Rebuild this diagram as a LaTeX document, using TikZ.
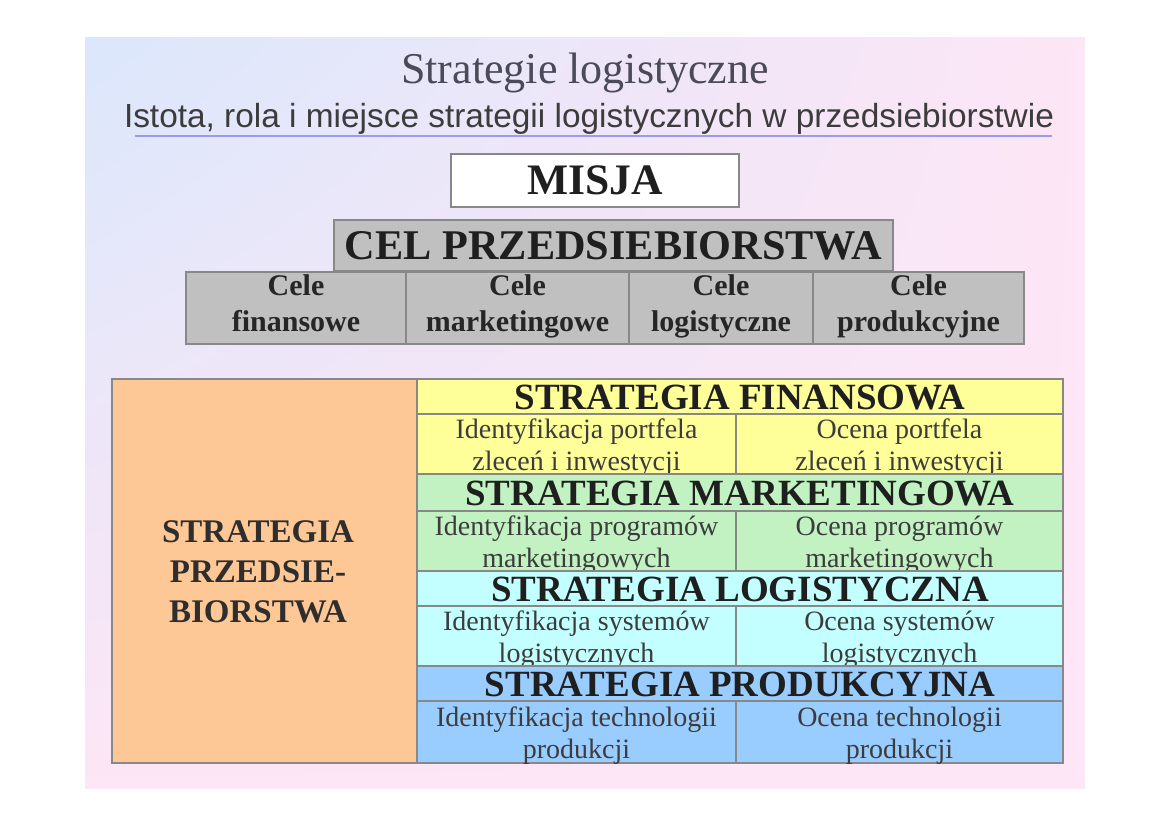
\documentclass[tikz,border=0pt]{standalone}
\usepackage{fontspec}
\usetikzlibrary{shadings}
\setmainfont{Liberation Serif}
\newfontfamily\arialf{Liberation Sans}
\definecolor{bgleft}{HTML}{DBE7FC}
\definecolor{bgright}{HTML}{FDE6F5}
\definecolor{cellgray}{HTML}{C0C0C0}
\definecolor{edgegray}{HTML}{888888}
\definecolor{orangef}{HTML}{FDC896}
\definecolor{yellowf}{HTML}{FFFF99}
\definecolor{greenf}{HTML}{C2F2C2}
\definecolor{cyanf}{HTML}{C4FFFF}
\definecolor{bluef}{HTML}{99CCFF}
\definecolor{titlec}{HTML}{4A4A58}
\definecolor{subc}{HTML}{3C3C3C}
\definecolor{linec}{HTML}{9A9AF0}
\begin{document}
\begin{tikzpicture}[x=1pt,y=-1pt,
  box/.style={draw=edgegray, line width=2pt, inner sep=0pt, anchor=north west},
  headtxt/.style={font=\fontsize{37}{38}\selectfont\bfseries, text=black!88},
  subtxt/.style={font=\fontsize{28}{32}\selectfont, text=subc, align=center},
  celetxt/.style={font=\fontsize{30}{36}\selectfont\bfseries, text=black!85, align=center}
]
\useasboundingbox (0,0) rectangle (1169,826);
\fill[white] (0,0) rectangle (1169,826);
\shade[upper left=bgleft, upper right=bgright, lower left=bgright, lower right=bgright] (85,38) rectangle (1085,788);

% titles
\node[font=\fontsize{44}{48}\selectfont, text=titlec] (title) at (585,73) {Strategie logistyczne};
\node[font=\arialf\fontsize{33.4}{36}\selectfont, text=subc] (subtitle) at (589,119) {Istota, rola i miejsce strategii logistycznych w przedsiebiorstwie};
\coordinate (ulL) at (135,136);
\coordinate (ulR) at (1052,136);
\draw[linec, line width=1.5pt] (ulL) -- (ulR);

% MISJA
\node[box, fill=white, minimum width=288pt, minimum height=53pt,
      label={[font=\fontsize{43.5}{44}\selectfont\bfseries, text=black!88]center:MISJA}] (misja) at (450,153) {};
% CEL
\node[box, fill=cellgray, minimum width=559pt, minimum height=51pt,
      label={[font=\fontsize{42.3}{44}\selectfont\bfseries, text=black!88]center:CEL PRZEDSIEBIORSTWA}] (cel) at (333,219) {};
% Cele row
\node[box, fill=cellgray, minimum width=220pt, minimum height=72pt] (c1) at (185,271) {};
\node[box, fill=cellgray, minimum width=223pt, minimum height=72pt] (c2) at (405,271) {};
\node[box, fill=cellgray, minimum width=184pt, minimum height=72pt] (c3) at (628,271) {};
\node[box, fill=cellgray, minimum width=211pt, minimum height=72pt] (c4) at (812,271) {};
\node[celetxt] at ([yshift=2pt]c1.center) {Cele\strut\\finansowe\strut};
\node[celetxt] at ([yshift=2pt]c2.center) {Cele\strut\\marketingowe\strut};
\node[celetxt] at ([yshift=2pt]c3.center) {Cele\strut\\logistyczne\strut};
\node[celetxt] at ([yshift=2pt]c4.center) {Cele\strut\\produkcyjne\strut};

% left orange
\node[box, fill=orangef, minimum width=305pt, minimum height=384pt] (sp) at (111,378) {};
\node[font=\fontsize{33}{40}\selectfont\bfseries, text=black!82, align=center] (sptxt) at (258,572) {STRATEGIA\\PRZEDSIE-\\BIORSTWA};

% bands
\foreach \nm/\col/\ty/\hh/\sy/\sh/\head/\la/\lb/\ra/\rb in {
  f/yellowf/378/35/413/60/STRATEGIA FINANSOWA/Identyfikacja portfela/zleceń i inwestycji/Ocena portfela/zleceń i inwestycji,
  m/greenf/473/37/510/60/STRATEGIA MARKETINGOWA/Identyfikacja programów/marketingowych/Ocena programów/marketingowych,
  l/cyanf/570/35/605/60/STRATEGIA LOGISTYCZNA/Identyfikacja systemów/logistycznych/Ocena systemów/logistycznych,
  p/bluef/665/35/700/62/STRATEGIA PRODUKCYJNA/Identyfikacja technologii/produkcji/Ocena technologii/produkcji}
{
  \node[box, fill=\col, minimum width=646pt, minimum height=\hh pt] (h\nm) at (416,\ty) {};
  \node[headtxt] at ([yshift=-1pt]h\nm.center) {\head};
  \node[box, fill=\col, minimum width=319pt, minimum height=\sh pt] (a\nm) at (416,\sy) {};
  \node[box, fill=\col, minimum width=327pt, minimum height=\sh pt] (b\nm) at (735,\sy) {};
  \node[subtxt] at ([yshift=-4pt]a\nm.center) {\la\strut\\\lb\strut};
  \node[subtxt] at ([yshift=-4pt]b\nm.center) {\ra\strut\\\rb\strut};
}
\end{tikzpicture}
\end{document}
